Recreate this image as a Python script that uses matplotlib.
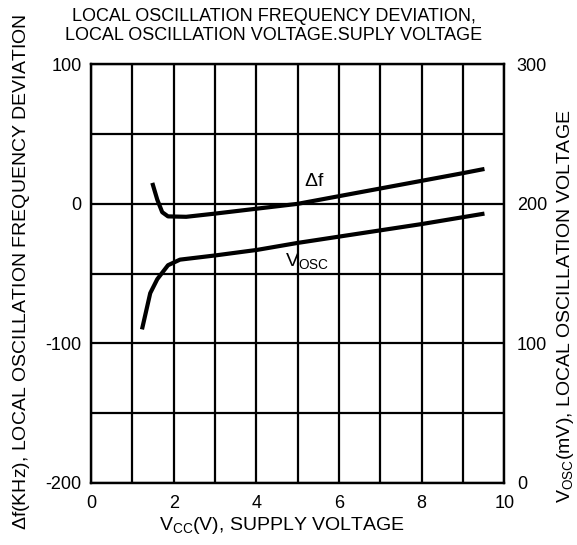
import matplotlib.pyplot as plt

plt.rcParams['font.family'] = ['Liberation Sans', 'DejaVu Sans']
plt.rcParams['mathtext.fontset'] = 'custom'
plt.rcParams['mathtext.rm'] = 'Liberation Sans'
plt.rcParams['mathtext.it'] = 'Liberation Sans'
plt.rcParams['axes.unicode_minus'] = False

# supply voltage (V) vs frequency deviation (kHz)
vcc_df = [1.48, 1.6, 1.72, 1.86, 2.3, 3.0, 4.0, 5.0, 6.0, 7.0, 8.0, 9.0, 9.52]
df_khz = [15, 3, -6, -9, -9.3, -7, -3.5, 0, 5.5, 11, 16.5, 22, 25]

# supply voltage (V) vs oscillation voltage (mV)
vcc_osc = [1.23, 1.43, 1.6, 1.86, 2.15, 3.0, 4.02, 5.0, 6.0, 7.0, 8.0, 9.52]
vosc_mv = [110, 136, 146, 156, 160, 163, 167, 172, 176.5, 181, 185.5, 193]

x_ticks = [0, 2, 4, 6, 8, 10]
left_ticks = [-200, -100, 0, 100]
right_ticks = [0, 100, 200, 300]

fig = plt.figure(figsize=(5.77, 5.45), dpi=100)
ax = fig.add_axes([0.158, 0.114, 0.716, 0.768])
ax2 = ax.twinx()

# grid
for gx in range(0, 11):
    ax.axvline(gx, color='black', lw=1.6, zorder=1)
for gy in range(-200, 101, 50):
    ax.axhline(gy, color='black', lw=1.6, zorder=1)

ax.plot(vcc_df, df_khz, color='black', lw=3, zorder=3, solid_capstyle='butt')
ax2.plot(vcc_osc, vosc_mv, color='black', lw=3, zorder=3, solid_capstyle='butt')

ax.set_xlim(0, 10)
ax.set_ylim(-200, 100)
ax2.set_ylim(0, 300)

ax.set_xticks(x_ticks)
ax.set_yticks(left_ticks)
ax2.set_yticks(right_ticks)
ax.tick_params(length=0, labelsize=13, pad=7)
ax.tick_params(axis='x', pad=9)
ax2.tick_params(length=0, labelsize=13, pad=9)
for a in (ax, ax2):
    for s in a.spines.values():
        s.set_linewidth(1.6)

ax.text(5.15, 10, r'$\Delta$f', fontsize=14, ha='left', va='bottom')
ax.text(4.7, -48, r'V$_{\mathrm{OSC}}$', fontsize=14, ha='left', va='bottom')

fig.text(282 / 577, 1 - 525 / 545, r'V$_{\mathrm{CC}}$(V), SUPPLY VOLTAGE',
         fontsize=14, ha='center', va='center')
fig.text(22 / 577, 1 - 272 / 545, r'$\Delta$f(KHz), LOCAL OSCILLATION FREQUENCY DEVIATION',
         fontsize=14, ha='center', va='center', rotation=90)
fig.text(565 / 577, 1 - 306 / 545, r'V$_{\mathrm{OSC}}$(mV), LOCAL OSCILLATION VOLTAGE',
         fontsize=14, ha='center', va='center', rotation=90)
fig.text(274 / 577, 1 - 26 / 545,
         'LOCAL OSCILLATION FREQUENCY DEVIATION,\nLOCAL OSCILLATION VOLTAGE.SUPLY VOLTAGE',
         fontsize=13, ha='center', va='center', linespacing=1.1)

fig.savefig('out.png', dpi=100)
